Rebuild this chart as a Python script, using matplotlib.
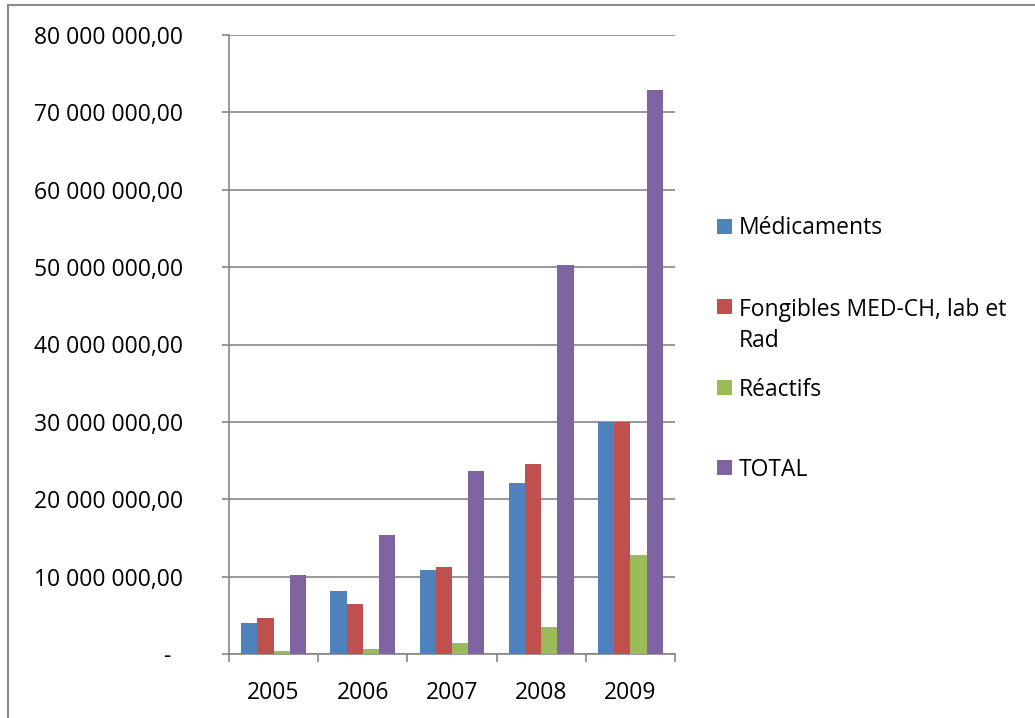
import matplotlib
matplotlib.use("Agg")
import matplotlib.pyplot as plt
from matplotlib.lines import Line2D
from matplotlib.patches import Rectangle
from matplotlib.ticker import FuncFormatter, FixedLocator
import numpy as np

years = ["2005", "2006", "2007", "2008", "2009"]
series_names = ["Médicaments", "Fongibles MED-CH, lab et\nRad", "Réactifs", "TOTAL"]
medicaments = [4.05e6, 8.2e6, 10.9e6, 22.15e6, 30.0e6]
fongibles = [4.6e6, 6.5e6, 11.2e6, 24.5e6, 30.0e6]
reactifs = [0.35e6, 0.6e6, 1.4e6, 3.5e6, 12.85e6]
total = [10.25e6, 15.4e6, 23.7e6, 50.25e6, 72.95e6]
colors = ["#4F81BD", "#C0504D", "#9BBB59", "#8064A2"]

W, H = 1035, 718
fig = plt.figure(figsize=(W / 100, H / 100), dpi=100)
plt.rcParams['font.family'] = ['Open Sans', 'DejaVu Sans']
FS = 16.5
GRID = "#868686"

def fx(px):
    return px / W

def fy(py):
    return 1 - py / H

ax = fig.add_axes([fx(229), fy(654), fx(675) - fx(229), fy(35) - fy(654)])

x = np.arange(len(years))
bw = 1 / 5.5
all_series = [medicaments, fongibles, reactifs, total]
for i, (vals, c) in enumerate(zip(all_series, colors)):
    ax.bar(x + (i - 1.5) * bw, vals, width=bw, color=c, edgecolor="none", zorder=3)

ax.set_xlim(-0.5, len(years) - 0.5)
ax.set_ylim(0, 80e6)
ax.set_yticks(np.arange(0, 80e6 + 1, 10e6))

def fmt(v, pos):
    if v == 0:
        return "-  "
    s = f"{v:,.2f}".replace(",", " ").replace(".", ",")
    return s

ax.yaxis.set_major_formatter(FuncFormatter(fmt))
ax.yaxis.grid(True, color=GRID, linewidth=1.2, zorder=0)
ax.set_axisbelow(True)

ax.set_xticks(x)
ax.set_xticklabels(years)
ax.xaxis.set_minor_locator(FixedLocator(np.arange(-0.5, len(years), 1.0)))
ax.tick_params(axis="x", which="major", length=0, pad=19.5, labelsize=FS)
ax.tick_params(axis="x", which="minor", length=6, width=1.2, color=GRID, direction="out")
ax.tick_params(axis="y", which="major", length=5, width=1.2, color=GRID, pad=28, labelsize=FS)

for s in ["top", "right"]:
    ax.spines[s].set_visible(False)
for s in ["left", "bottom"]:
    ax.spines[s].set_color(GRID)
    ax.spines[s].set_linewidth(1.2)

# Legend (manual, matching Excel layout)
sq_centers = [226.5, 306.5, 387.5, 467.5]
line_h = 32
for name, c, cy in zip(series_names, colors, sq_centers):
    fig.patches.append(Rectangle((fx(717), fy(cy + 7.5)), fx(15), 15 / H,
                                 transform=fig.transFigure, facecolor=c,
                                 edgecolor="none"))
    n_extra = name.count("\n")
    fig.text(fx(739), fy(cy + 8 + n_extra * line_h), name, fontsize=FS,
             va="baseline", ha="left", linespacing=1.38, color="black")

# Outer border (chart area)
fig.add_artist(Line2D([fx(8), fx(8)], [fy(5), 0], transform=fig.transFigure,
                      color="#8C8C8C", linewidth=1.5))
fig.add_artist(Line2D([fx(8), 1], [fy(5), fy(5)], transform=fig.transFigure,
                      color="#8C8C8C", linewidth=1.5))

fig.savefig("out.png", dpi=100)
